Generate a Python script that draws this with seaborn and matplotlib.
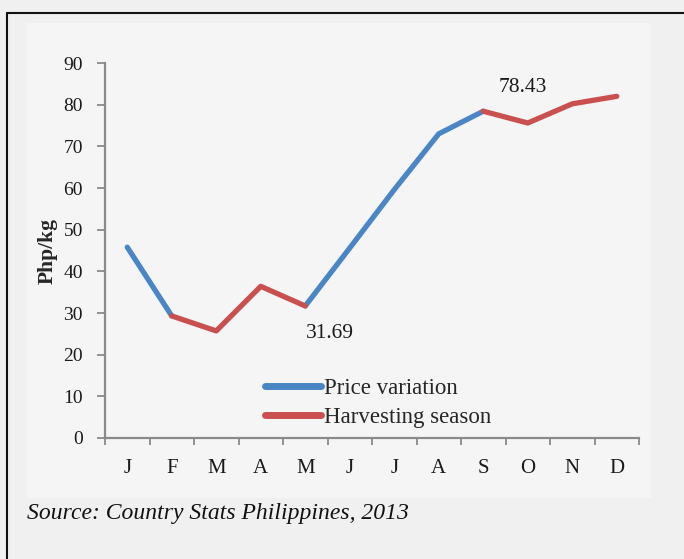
import matplotlib
matplotlib.use("Agg")
import matplotlib.pyplot as plt
from matplotlib.lines import Line2D
from matplotlib.patches import Rectangle
import seaborn as sns
import pandas as pd

# Monthly farm-gate price (Php/kg)
months = ["J", "F", "M", "A", "M", "J", "J", "A", "S", "O", "N", "D"]
price = [45.8, 29.3, 25.7, 36.4, 31.69, 45.6, 59.6, 73.0, 78.43, 75.6, 80.2, 82.0]

# Which stretches of the year belong to each series (start, end month index)
price_variation_spans = [(0, 1), (4, 8)]
harvesting_spans = [(1, 4), (8, 11)]
series_names = ["Price variation", "Harvesting season"]
series_colors = ["#4a86c6", "#c9504e"]

y_ticks = list(range(0, 91, 10))

rows = []
seg = 0
for name, spans in zip(series_names, [price_variation_spans, harvesting_spans]):
    for a, b in spans:
        for i in range(a, b + 1):
            rows.append({"pos": i, "price": price[i], "series": name, "segment": seg})
        seg += 1
df = pd.DataFrame(rows)

sns.set_theme(style="white")
plt.rcParams["font.family"] = ["Liberation Serif", "DejaVu Serif"]

W, H = 684, 559
fig = plt.figure(figsize=(W / 100, H / 100), dpi=100, facecolor="#f0f0f0")

# lighter chart panel and the frame line along the top/left
fig.add_artist(Rectangle((27 / W, 1 - 498 / H), (651 - 27) / W, (498 - 23) / H,
                         transform=fig.transFigure, facecolor="#f5f5f5",
                         edgecolor="none", zorder=0))
fig.add_artist(Line2D([7 / W, 7 / W], [0, 1 - 13 / H], transform=fig.transFigure,
                      color="#111111", lw=1.5))
fig.add_artist(Line2D([7 / W, 1], [1 - 13 / H, 1 - 13 / H], transform=fig.transFigure,
                      color="#111111", lw=1.5))

ax = fig.add_axes([105 / W, 1 - 438 / H, (639 - 105) / W, (438 - 63) / H])
ax.set_facecolor("none")

sns.lineplot(data=df, x="pos", y="price", hue="series", units="segment",
             estimator=None, palette=dict(zip(series_names, series_colors)),
             hue_order=series_names, linewidth=3.8, ax=ax, legend=False,
             solid_capstyle="round")

ax.set_xlim(-0.5, 11.5)
ax.set_ylim(0, 90)
ax.set_yticks(y_ticks)
ax.set_yticklabels([str(v) for v in y_ticks], fontsize=14, color="#1a1a1a")
ax.set_xticks(range(len(months)))
ax.set_xticklabels(months, fontsize=15, color="#1a1a1a")
ax.set_xticks([i - 0.5 for i in range(len(months) + 1)], minor=True)
ax.tick_params(axis="x", which="major", length=0, pad=15)
ax.tick_params(axis="x", which="minor", length=5, width=1.3, color="#8a8a8a",
               direction="out")
ax.tick_params(axis="y", which="major", length=6, width=1.3, color="#8a8a8a",
               direction="out", pad=10)
ax.tick_params(left=True, bottom=True, which="both")
ax.tick_params(axis="x", which="major", bottom=False)
for side in ["top", "right"]:
    ax.spines[side].set_visible(False)
for side in ["left", "bottom"]:
    ax.spines[side].set_color("#8a8a8a")
    ax.spines[side].set_linewidth(1.6)

ax.set_xlabel("")
ax.set_ylabel("Php/kg", fontsize=15.5, fontweight="bold", labelpad=4)

# value labels for the low and high points
ax.text(4.56, 25.0, f"{price[4]:.2f}", ha="center", va="center", fontsize=15.5,
        color="#1a1a1a")
ax.text(8.9, 84.2, f"{price[8]:.2f}", ha="center", va="center", fontsize=15.5,
        color="#1a1a1a")

handles = [Line2D([], [], color=c, lw=5, solid_capstyle="round") for c in series_colors]
fig.legend(handles, series_names, loc="center left",
           bbox_to_anchor=(265 / W, 1 - 403 / H), bbox_transform=fig.transFigure,
           frameon=False, fontsize=16.5, handlelength=2.45, handletextpad=0.12,
           labelspacing=0.32, borderpad=0, borderaxespad=0)

fig.text(27 / W, 1 - 514 / H, "Source: Country Stats Philippines, 2013",
         fontsize=17, fontstyle="italic", ha="left", va="center", color="#111111")

fig.savefig("out.png", dpi=100, facecolor=fig.get_facecolor())
